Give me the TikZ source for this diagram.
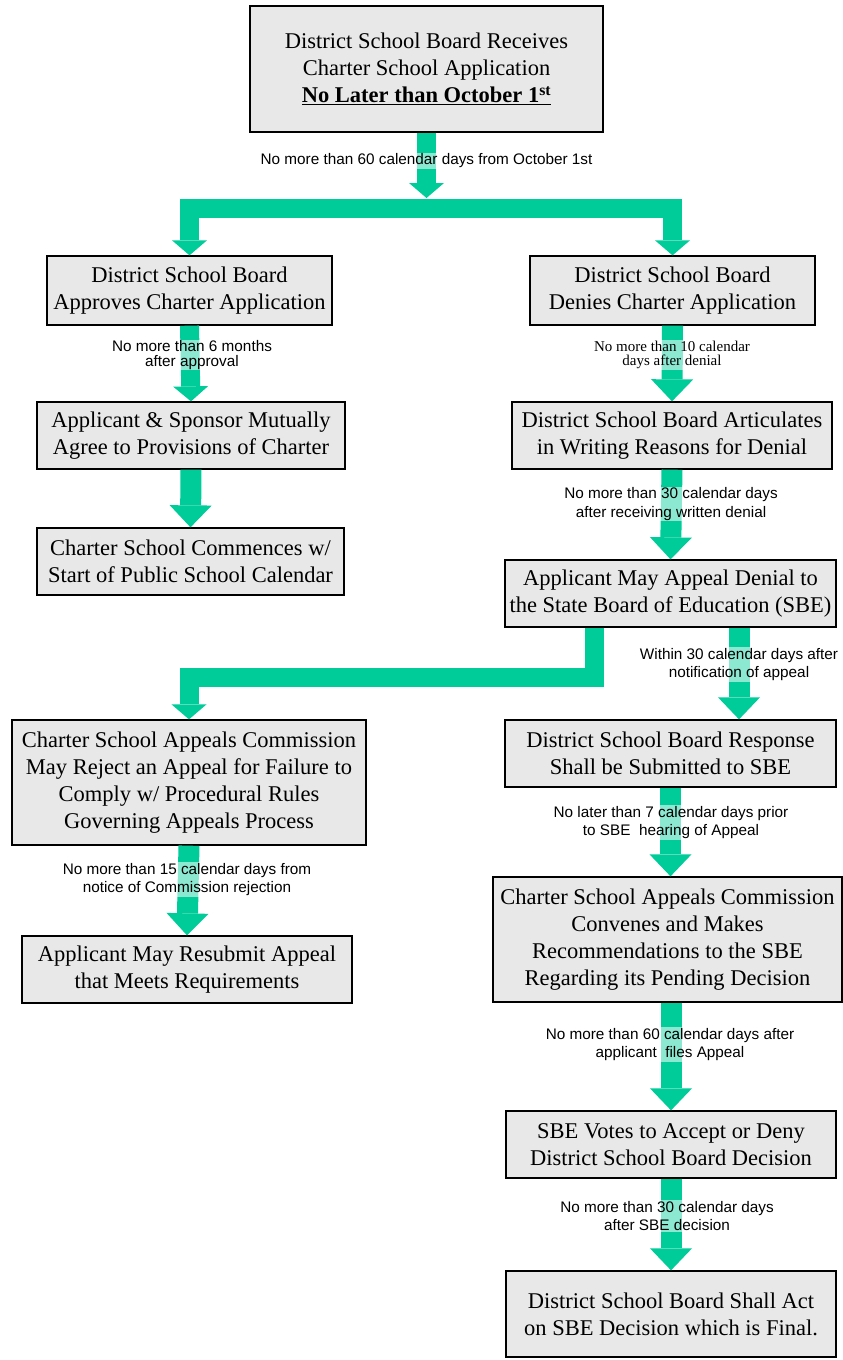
\documentclass[tikz,border=0pt]{standalone}
\usepackage{fontspec}
\setmainfont{Liberation Serif}
\newfontfamily\labsans{Liberation Sans}
\newfontfamily\labserif{Liberation Serif}
\usetikzlibrary{arrows.meta}
\definecolor{flowgreen}{RGB}{0,204,153}
\definecolor{boxgray}{RGB}{232,232,232}
\tikzset{
  box/.style={draw=black, line width=1.3pt, fill=boxgray, align=center, inner sep=0pt,
    font=\fontsize{22.5}{27}\selectfont},
  flow/.style={draw=flowgreen, line width=21pt, line join=miter,
    -{Triangle[length=22pt, width=42pt, line width=0pt]}},
  flowthin/.style={draw=flowgreen, line width=19pt, line join=miter,
    -{Triangle[length=15pt, width=35pt, line width=0pt]}},
  lab/.style={align=center, fill=white, fill opacity=0.55, text opacity=1, inner sep=1pt,
    font=\labsans\fontsize{15.3}{18.5}\selectfont},
}
\begin{document}
\begin{tikzpicture}[x=1pt,y=-1pt]
\useasboundingbox (0,0) rectangle (843,1360);
% boxes
\node[box, minimum width=353pt, minimum height=126pt] (top) at (426.5,69)
  {District School Board Receives\\Charter School Application\\\textbf{\underline{No Later than October 1\textsuperscript{st}}}};
\node[box, minimum width=285pt, minimum height=69pt] (appr) at (189.5,290.5)
  {District School Board\\Approves Charter Application};
\node[box, minimum width=285pt, minimum height=69pt] (deny) at (672.5,290.5)
  {District School Board\\Denies Charter Application};
\node[box, minimum width=308pt, minimum height=67pt] (agree) at (191,435.5)
  {Applicant \& Sponsor Mutually\\Agree to Provisions of Charter};
\node[box, minimum width=307pt, minimum height=67pt] (commence) at (190.5,561.5)
  {Charter School Commences w/\\Start of Public School Calendar};
\node[box, minimum width=320pt, minimum height=67pt] (artic) at (672,435.5)
  {District School Board Articulates\\in Writing Reasons for Denial};
\node[box, minimum width=331pt, minimum height=67pt] (appeal) at (670.5,593.5)
  {Applicant May Appeal Denial to\\the State Board of Education (SBE)};
\node[box, minimum width=354pt, minimum height=125pt] (reject) at (189,782.5)
  {Charter School Appeals Commission\\May Reject an Appeal for Failure to\\Comply w/ Procedural Rules\\Governing Appeals Process};
\node[box, minimum width=331pt, minimum height=67pt] (response) at (670.5,753.5)
  {District School Board Response\\Shall be Submitted to SBE};
\node[box, minimum width=330pt, minimum height=67pt] (resubmit) at (187,969.5)
  {Applicant May Resubmit Appeal\\that Meets Requirements};
\node[box, minimum width=349pt, minimum height=125pt] (convenes) at (667.5,939.5)
  {Charter School Appeals Commission\\Convenes and Makes\\Recommendations to the SBE\\Regarding its Pending Decision};
\node[box, minimum width=330pt, minimum height=67pt] (votes) at (671,1144.5)
  {SBE Votes to Accept or Deny\\District School Board Decision};
\node[box, minimum width=330pt, minimum height=86pt] (final) at (671,1314)
  {District School Board Shall Act\\on SBE Decision which is Final.};
% helper coordinates
\coordinate (jt) at (426.5,198);
\coordinate (jn) at (426.5,208);
\coordinate (c6) at (594.5,0);
\coordinate (b6) at (0,677.5);
\coordinate (c7) at (739,0);
% connectors
\draw[flowthin] (top.south) -- (jt);
\draw[flowthin] (jn) -| (appr.north);
\draw[flowthin] (jn) -| (deny.north);
\draw[flowthin] (appr.south) -- (agree.north);
\draw[flow] (agree.south) -- (commence.north);
\draw[flow] (deny.south) -- (artic.north);
\draw[flow] (artic.south) -- (appeal.north);
\draw[flowthin] (appeal.south -| c6) -- (c6 |- b6) -| (reject.north);
\draw[flow] (appeal.south -| c7) -- (response.north -| c7);
\draw[flow] (reject.south) -- (resubmit.north);
\draw[flow] (response.south) -- (convenes.north -| response.south);
\draw[flow] (convenes.south -| votes.north) -- (votes.north);
\draw[flow] (votes.south) -- (final.north);
% labels
\node[lab] (l1) at (426.5,161) {No more than 60 calendar days from October 1st};
\node[lab, font=\labsans\fontsize{15.3}{14.5}\selectfont] (l2) at (192,355) {No more than 6 months\\after approval};
\node[lab, font=\labserif\fontsize{15}{14.5}\selectfont] (l3) at (672,355) {No more than 10 calendar\\days after denial};
\node[lab] (l4) at (671,504) {No more than 30 calendar days\\after receiving written denial};
\node[lab] (l5) at (739,664.5) {Within 30 calendar days after\\notification of appeal};
\node[lab] (l6) at (187,879.5) {No more than 15 calendar days from\\notice of Commission rejection};
\node[lab] (l7) at (671,822.5) {No later than 7 calendar days prior\\to SBE\ \ hearing of Appeal};
\node[lab] (l8) at (670,1044.5) {No more than 60 calendar days after\\applicant\ \ files Appeal};
\node[lab] (l9) at (667,1216) {No more than 30 calendar days\\after SBE decision};
\end{tikzpicture}
\end{document}
